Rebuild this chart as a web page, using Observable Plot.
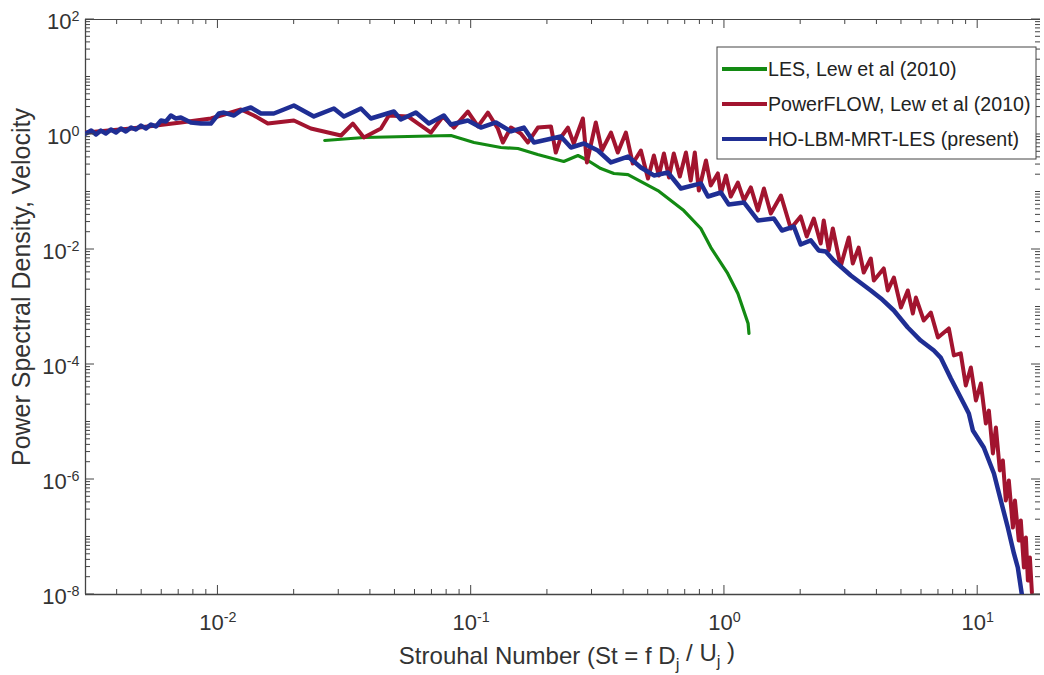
<!DOCTYPE html>
<html><head><meta charset="utf-8">
<script src="https://cdn.jsdelivr.net/npm/d3@7"></script>
<script src="https://cdn.jsdelivr.net/npm/@observablehq/plot@0.6"></script>
<style>
body{margin:0;background:#fff;}
#chart svg{display:block;}
</style>
</head><body><div id="chart"></div>
<script>
// ---- data: [Strouhal number, PSD] ----
const lesData = [[0.0264,0.787],[0.0377,0.887],[0.0562,0.923],[0.0832,0.96],[0.1026,0.726],[0.131,0.594],[0.153,0.571],[0.183,0.449],[0.232,0.339],[0.264,0.431],[0.289,0.353],[0.325,0.256],[0.366,0.210],[0.416,0.201],[0.546,0.106],[0.691,0.0476],[0.807,0.0232],[0.884,0.0108],[1.03,0.00383],[1.13,0.00172],[1.24,0.000516],[1.25,0.000346]];

const powerflowData = [[0.00301,1.08],[0.00454,1.27],[0.00714,1.62],[0.00938,1.90],[0.01233,2.72],[0.01387,2.14],[0.01574,1.55],[0.01995,1.75],[0.02328,1.27],[0.03062,0.961],[0.03409,1.55],[0.0377,0.887],[0.04402,1.27],[0.04731,2.14],[0.05623,2.06],[0.06934,1.08],[0.07734,2.06],[0.08551,1.32],[0.09705,2.51],[0.1064,1.38],[0.1164,2.41],[0.1274,1.27],[0.1334,0.726],[0.1435,1.32],[0.157,1.04],[0.1675,0.726],[0.1834,1.32],[0.2065,1.38],[0.2158,0.486],[0.2259,0.887],[0.241,1.32],[0.2541,0.697],[0.2761,1.90],[0.2864,0.326],[0.3105,1.62],[0.3281,0.527],[0.3565,1.08],[0.3793,0.486],[0.4083,1.08],[0.4345,0.313],[0.4677,0.527],[0.4989,0.172],[0.5265,0.431],[0.5508,0.194],[0.5768,0.467],[0.6039,0.179],[0.631,0.467],[0.6668,0.186],[0.7047,0.486],[0.7362,0.158],[0.7638,0.486],[0.7925,0.106],[0.8453,0.353],[0.8831,0.130],[0.9419,0.210],[0.9683,0.0942],[1.014,0.194],[1.059,0.0835],[1.13,0.146],[1.194,0.0712],[1.271,0.120],[1.355,0.0477],[1.432,0.115],[1.524,0.0423],[1.671,0.0869],[1.828,0.0232],[2.0,0.0375],[2.113,0.0168],[2.254,0.0346],[2.399,0.0127],[2.466,0.032],[2.582,0.00962],[2.679,0.0232],[2.877,0.00507],[3.097,0.0162],[3.212,0.00571],[3.388,0.0108],[3.548,0.00398],[3.784,0.00698],[3.89,0.00289],[4.256,0.00468],[4.416,0.00194],[4.667,0.00326],[4.977,0.00098],[5.297,0.00194],[5.546,0.000771],[5.702,0.00146],[6.124,0.000582],[6.531,0.000802],[6.966,0.000295],[7.691,0.000424],[8.054,0.000144],[8.57,0.000156],[8.974,4.32e-5],[9.397,8.87e-5],[9.84,2.37e-5],[10.29,4.68e-5],[10.77,9.42e-6],[11.07,1.58e-5],[11.48,2.84e-6],[11.8,8.03e-6],[12.23,1.44e-6],[12.57,2.14e-6],[12.91,4.32e-7],[13.27,9.62e-7],[13.77,1.46e-7],[14.03,4.32e-7],[14.53,8.71e-8],[14.8,1.94e-7],[15.22,2.95e-8],[15.5,9.81e-8],[15.78,1.75e-8],[16.07,4.41e-8],[16.37,1.09e-8]];

const hoLbmData = [[0.00301,1.04],[0.00316,1.17],[0.0033,1.00],[0.00345,1.17],[0.00361,1.04],[0.00378,1.22],[0.00396,1.08],[0.00414,1.27],[0.00433,1.13],[0.00454,1.32],[0.00474,1.22],[0.00497,1.43],[0.0052,1.27],[0.00544,1.49],[0.00569,1.38],[0.00596,1.75],[0.00623,1.68],[0.00652,2.14],[0.00682,1.90],[0.00714,1.98],[0.00782,1.62],[0.00857,1.55],[0.00938,1.55],[0.01009,2.32],[0.01056,2.41],[0.01157,2.14],[0.01233,2.61],[0.01349,2.95],[0.01479,2.32],[0.01663,2.32],[0.01995,3.19],[0.02393,2.06],[0.0287,2.83],[0.03144,2.06],[0.0367,2.83],[0.04017,1.90],[0.04953,2.51],[0.05275,1.82],[0.06049,2.41],[0.06808,1.55],[0.07798,2.14],[0.08318,1.49],[0.09705,1.75],[0.1092,1.32],[0.1253,1.62],[0.1435,1.13],[0.1614,1.32],[0.177,0.726],[0.2259,0.923],[0.2477,0.594],[0.2786,0.697],[0.3162,0.527],[0.3565,0.326],[0.4159,0.414],[0.4677,0.267],[0.5265,0.194],[0.5984,0.218],[0.673,0.115],[0.8072,0.141],[0.861,0.0835],[0.9683,0.0981],[1.04,0.0607],[1.194,0.0657],[1.355,0.032],[1.567,0.0346],[1.687,0.0214],[1.879,0.0251],[2.0,0.0122],[2.193,0.0144],[2.355,0.00962],[2.512,0.00924],[2.704,0.00645],[3.155,0.00353],[3.784,0.00194],[4.15,0.00141],[4.667,0.000869],[5.297,0.00044],[5.957,0.000261],[6.714,0.000175],[7.14,0.000132],[7.834,5.71e-5],[8.81,2.1e-5],[9.226,1.41e-5],[9.572,7.13e-6],[10.57,3.61e-6],[11.59,1.27e-6],[12.34,4.32e-7],[13.15,1.46e-7],[13.9,5.18e-8],[14.4,2.95e-8],[14.94,1.0e-8]];

const seriesNames = ["LES, Lew et al (2010)", "PowerFLOW, Lew et al (2010)", "HO-LBM-MRT-LES (present)"];
const seriesColors = ["#138a13", "#a2142f", "#1f2e94"];
const seriesWidths = [3.2, 4, 4.5];

const xDomain = [0.003, 17.7];
const yDomain = [1e-8, 1e2];
const xMajorTicks = [0.01, 0.1, 1, 10];
const xTickLabels = ["10^-2", "10^-1", "10^0", "10^1"];
const yMajorTicks = [1e2, 1, 1e-2, 1e-4, 1e-6, 1e-8];
const yTickLabels = ["10^2", "10^0", "10^-2", "10^-4", "10^-6", "10^-8"];
const xAxisLabel = ["Strouhal Number (St = f D", "j", " / U", "j", " )"];
const yAxisLabel = "Power Spectral Density, Velocity";

// minor ticks (log 2..9 per decade, plus unlabeled decades)
const xMinorTicks = [];
for (let e = -3; e <= 1; e++) for (let m = 1; m <= 9; m++) {
  const v = m * 10 ** e;
  if (v > xDomain[0] * 1.01 && v < xDomain[1] && !xMajorTicks.some(t => Math.abs(t / v - 1) < 1e-6)) xMinorTicks.push(v);
}
const yMinorTicks = [];
for (let e = -8; e <= 1; e++) for (let m = 1; m <= 9; m++) {
  const v = m * 10 ** e;
  if (v > yDomain[0] * 1.01 && v < yDomain[1] * 0.99 && !yMajorTicks.some(t => Math.abs(t / v - 1) < 1e-6)) yMinorTicks.push(v);
}

const W = 1044, H = 675;
const mL = 85, mR = 4, mT = 19, mB = 81;
const axisColor = "#444";
const textColor = "#333";
const majorLen = 9, minorLen = 5;
const font = "'Liberation Sans', Arial, Helvetica, sans-serif";

const plot = Plot.plot({
  width: W, height: H,
  marginLeft: mL, marginRight: mR, marginTop: mT, marginBottom: mB,
  x: {type: "log", domain: xDomain, axis: null},
  y: {type: "log", domain: yDomain, axis: null},
  style: {fontFamily: font, background: "#fff", color: textColor},
  marks: [
    // axis lines (bottom, top, left)
    Plot.ruleY([yDomain[0]], {stroke: axisColor, strokeWidth: 1.3}),
    Plot.ruleY([yDomain[1]], {stroke: axisColor, strokeWidth: 1}),
    Plot.ruleX([xDomain[0]], {stroke: axisColor, strokeWidth: 1.3}),
    // tick labels
    Plot.text(xMajorTicks, {x: d => d, y: yDomain[0], text: (d, i) => xTickLabels[i], dy: 28, fontSize: 22, fill: textColor}),
    Plot.text(yMajorTicks, {x: xDomain[0], y: d => d, text: (d, i) => yTickLabels[i], textAnchor: "end", dx: -6, dy: 2, fontSize: 22, fill: textColor}),
    // data
    Plot.line(lesData, {x: d => d[0], y: d => d[1], stroke: seriesColors[0], strokeWidth: seriesWidths[0], clip: true}),
    Plot.line(powerflowData, {x: d => d[0], y: d => d[1], stroke: seriesColors[1], strokeWidth: seriesWidths[1], clip: true}),
    Plot.line(hoLbmData, {x: d => d[0], y: d => d[1], stroke: seriesColors[2], strokeWidth: seriesWidths[2], clip: true})
  ]
});

const svg = d3.select(plot);
const sx = plot.scale("x"), sy = plot.scale("y");
const X = v => sx.apply(v), Y = v => sy.apply(v);
const x0 = X(xDomain[0]), x1 = X(xDomain[1]), y0 = Y(yDomain[0]), y1 = Y(yDomain[1]);

// inward tick marks on all four sides, positioned with Plot's scales
const tg = svg.append("g").attr("stroke", axisColor).attr("stroke-width", 1);
[[xMajorTicks, majorLen], [xMinorTicks, minorLen]].forEach(([ticks, len]) => {
  ticks.forEach(v => {
    const px = X(v);
    tg.append("line").attr("x1", px).attr("x2", px).attr("y1", y0).attr("y2", y0 - len);
    tg.append("line").attr("x1", px).attr("x2", px).attr("y1", y1).attr("y2", y1 + len);
  });
});
[[yMajorTicks, majorLen], [yMinorTicks, minorLen]].forEach(([ticks, len]) => {
  ticks.forEach(v => {
    const py = Y(v);
    tg.append("line").attr("x1", x0).attr("x2", x0 + len).attr("y1", py).attr("y2", py);
    tg.append("line").attr("x1", x1).attr("x2", x1 - len).attr("y1", py).attr("y2", py);
  });
});

// superscript tick labels
svg.selectAll("text").each(function() {
  const m = /^10\^(.+)$/.exec(this.textContent);
  if (!m) return;
  const t = d3.select(this);
  t.text(null);
  t.append("tspan").text("10");
  t.append("tspan").attr("dy", "-0.55em").attr("font-size", "0.65em").text(m[1]);
});

// axis titles
svg.append("text")
  .attr("transform", `translate(30,287) rotate(-90)`)
  .attr("text-anchor", "middle")
  .attr("font-size", 25).attr("fill", textColor).attr("font-family", font)
  .text(yAxisLabel);

const xl = svg.append("text")
  .attr("x", 567).attr("y", 664)
  .attr("text-anchor", "middle")
  .attr("font-size", 24).attr("fill", textColor).attr("font-family", font);
xAxisLabel.forEach((s, i) => {
  const ts = xl.append("tspan").text(s);
  if (i % 2 === 1) ts.attr("dy", "0.35em").attr("font-size", "0.7em");
  else if (i > 0) ts.attr("dy", "-0.35em");
});

// legend
const lg = svg.append("g").attr("text-anchor", "start");
const lx = 717, ly = 47, lw = 319, lh = 112;
lg.append("rect").attr("x", lx).attr("y", ly).attr("width", lw).attr("height", lh)
  .attr("fill", "#fff").attr("stroke", "#444").attr("stroke-width", 1);
seriesNames.forEach((name, i) => {
  const yy = ly + 22 + i * 35;
  lg.append("line").attr("x1", lx + 5).attr("x2", lx + 50).attr("y1", yy).attr("y2", yy)
    .attr("stroke", seriesColors[i]).attr("stroke-width", 4);
  lg.append("text").attr("x", lx + 51).attr("y", yy).attr("dy", "0.36em")
    .attr("text-anchor", "start")
    .attr("font-size", 19.6).attr("fill", "#222").attr("font-family", font).text(name);
});

document.getElementById("chart").appendChild(plot);
</script>
</body></html>
